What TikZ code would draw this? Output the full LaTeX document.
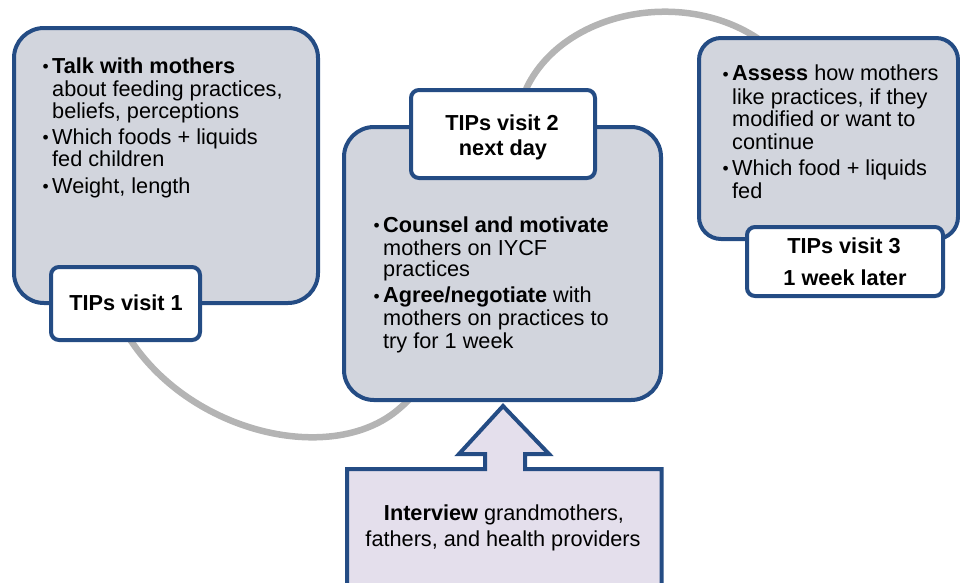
\documentclass[tikz,border=0pt]{standalone}
\usepackage{fontspec}
\setmainfont{Liberation Sans}
\definecolor{bord}{HTML}{244C84}
\definecolor{boxfill}{HTML}{D2D5DD}
\definecolor{arrfill}{HTML}{E4DFEC}
\definecolor{curvegray}{HTML}{B4B4B4}
\newcommand{\fs}{\fontsize{21.7}{22.7}\selectfont}
\newcommand{\bul}{\raisebox{0.6pt}{\fontsize{17.5}{17.5}\selectfont •}}
\begin{document}
\begin{tikzpicture}[x=1pt,y=-1pt,
  bigbox/.style={draw=bord, line width=4pt, fill=boxfill, inner sep=0pt},
  tag/.style={draw=bord, line width=4pt, fill=white, rounded corners=8pt, inner sep=0pt},
  ln/.style={inner sep=0pt, anchor=base west, font=\fs},
  lbl/.style={inner sep=0pt, anchor=base, font=\fs\bfseries},
  txt/.style={inner sep=0pt, anchor=base, font=\fs},
  curveline/.style={draw=curvegray, line width=6.5pt},
  arrowbox/.style={draw=bord, line width=4pt, fill=arrfill, line join=miter}]
\useasboundingbox (0,0) rectangle (960,582);
\clip (0,0) rectangle (960,582);
% connecting curve
\coordinate (cs) at (120,322);
\coordinate (ce) at (760,40);
\draw[curveline] (cs) .. controls (175,430) and (330,470) .. (400,408)
  .. controls (480,340) and (500,160) .. (527,87)
  .. controls (565,10) and (685,-12) .. (ce);
% box 1
\node[bigbox, rounded corners=30pt, minimum width=304pt, minimum height=275pt] (b1) at (166,165.5) {};
\node[tag, minimum width=149pt, minimum height=73pt] (g1) at (125.5,303.5) {};
% box 3
\node[bigbox, rounded corners=22pt, minimum width=259pt, minimum height=201pt] (b3) at (828.5,138.5) {};
\node[tag, minimum width=196pt, minimum height=69pt] (g3) at (845,261.5) {};
% box 2
\node[bigbox, rounded corners=30pt, minimum width=317pt, minimum height=273pt] (b2) at (502.5,263.5) {};
\node[tag, minimum width=184pt, minimum height=88pt] (g2) at (503,134) {};
% arrow callout
\draw[arrowbox] (347,600) -- (347,469) -- (485,469) -- (485,454) -- (459,454) -- (503,406)
  -- (549,454) -- (525,454) -- (525,469) -- (661.5,469) -- (661.5,600) -- cycle;
% box 1 text
\node[ln] (a0) at (42.5,73.3) {\bul};
\node[ln] (a1) at (52,73.3) {\textbf{Talk with mothers}};
\node[ln] (a2) at (52,96) {about feeding practices,};
\node[ln] (a3) at (52,118.3) {beliefs, perceptions};
\node[ln] (a4) at (42.5,144) {\bul};
\node[ln] (a5) at (52,144) {Which foods + liquids};
\node[ln] (a6) at (52,166.7) {fed children};
\node[ln] (a7) at (42.5,193.3) {\bul};
\node[ln] (a8) at (52,193.3) {Weight, length};
% box 2 text
\node[ln] (c0) at (373.5,232.3) {\bul};
\node[ln] (c1) at (383,232.3) {\textbf{Counsel and motivate}};
\node[ln] (c2) at (383,255) {mothers on IYCF};
\node[ln] (c3) at (383,276.7) {practices};
\node[ln] (c4) at (373.5,302.7) {\bul};
\node[ln] (c5) at (383,302.7) {\textbf{Agree/negotiate} with};
\node[ln] (c6) at (383,325.7) {mothers on practices to};
\node[ln] (c7) at (383,348.3) {try for 1 week};
% box 3 text
\node[ln] (e0) at (722.5,80.7) {\bul};
\node[ln] (e1) at (732,80.7) {\textbf{Assess} how mothers};
\node[ln] (e2) at (732,104) {like practices, if they};
\node[ln] (e3) at (732,126.7) {modified or want to};
\node[ln] (e4) at (732,149.3) {continue};
\node[ln] (e5) at (722.5,175) {\bul};
\node[ln] (e6) at (732,175) {Which food + liquids};
\node[ln] (e7) at (732,198.3) {fed};
% labels
\node[lbl] (l1) at (126,310) {TIPs visit 1};
\node[lbl] (l2a) at (502,130) {TIPs visit 2};
\node[lbl] (l2b) at (503,155) {next day};
\node[lbl] (l3a) at (844,253) {TIPs visit 3};
\node[lbl] (l3b) at (845,285) {1 week later};
\node[txt] (i1) at (504,520) {\textbf{Interview} grandmothers,};
\node[txt] (i2) at (503,546) {fathers, and health providers};
\end{tikzpicture}
\end{document}
